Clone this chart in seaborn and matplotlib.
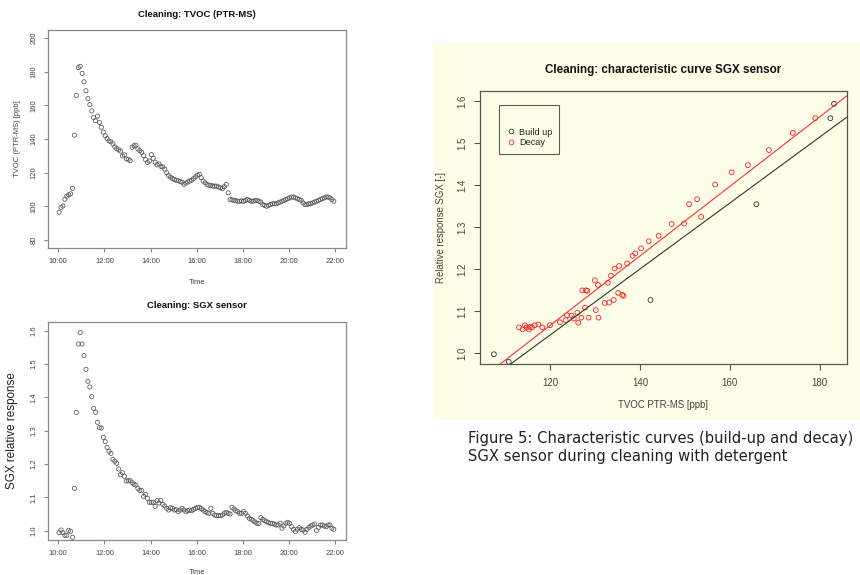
import matplotlib
matplotlib.use("Agg")
import matplotlib.pyplot as plt
from matplotlib.lines import Line2D
from matplotlib.patches import Rectangle
import pandas as pd
import seaborn as sns

# ---------------- data ----------------
start_time = "2012-01-01 10:02"
sample_interval = "5min"

tvoc_ppb = [
    # 10:02 - 10:57
    96.4, 99.4, 100.2, 104.2, 106.0, 106.8, 107.4, 110.7, 142.3, 165.9, 182.4, 183.2,
    # 11:02 - 11:57
    179.0, 174.0, 168.7, 164.0, 160.4, 156.7, 152.7, 150.9, 153.6, 149.8, 147.0, 144.1,
    # 12:02 - 12:57
    141.9, 140.2, 138.9, 138.3, 137.1, 135.3, 134.3, 133.5, 132.8, 129.9, 130.6, 128.2,
    # 13:02 - 13:57
    127.9, 127.1, 135.1, 136.0, 136.3, 134.1, 133.1, 132.1, 130.1, 127.7, 126.0, 126.9,
    # 14:02 - 14:57
    130.7, 128.5, 126.2, 124.7, 125.2, 123.7, 123.4, 122.1, 119.9, 118.2, 117.3, 116.5,
    # 15:02 - 15:57
    115.9, 115.4, 115.2, 114.7, 114.3, 113.0, 113.8, 114.5, 115.0, 115.5, 116.5, 117.5,
    # 16:02 - 16:57
    118.5, 119.0, 117.0, 115.0, 114.0, 113.0, 112.5, 112.5, 112.0, 112.0, 112.0, 111.5,
    # 17:02 - 17:57
    111.0, 110.6, 111.7, 113.0, 108.0, 104.0, 103.8, 103.5, 103.3, 103.0, 103.0, 103.2,
    # 18:02 - 18:57
    103.0, 103.5, 104.0, 103.5, 103.0, 103.0, 103.5, 103.5, 103.0, 102.5, 101.0, 100.5,
    # 19:02 - 19:57
    100.0, 100.5, 101.0, 101.5, 101.5, 101.5, 102.0, 102.5, 103.0, 103.5, 104.0, 104.5,
    # 20:02 - 20:57
    105.0, 105.5, 105.5, 105.0, 104.5, 104.0, 103.5, 102.0, 101.0, 101.0, 101.5, 101.5,
    # 21:02 - 21:57
    102.0, 102.5, 103.0, 103.5, 104.0, 104.5, 105.0, 105.5, 105.5, 105.0, 104.0, 103.0,
]

sgx_rel = [
    # 10:02 - 10:57
    0.994, 1.002, 0.994, 0.986, 0.986, 1.001, 0.998, 0.980, 1.127, 1.355, 1.560, 1.594,
    # 11:02 - 11:57
    1.560, 1.525, 1.484, 1.448, 1.431, 1.402, 1.367, 1.355, 1.325, 1.309, 1.308, 1.280,
    # 12:02 - 12:57
    1.267, 1.250, 1.238, 1.232, 1.214, 1.208, 1.202, 1.185, 1.168, 1.174, 1.163, 1.149,
    # 13:02 - 13:57
    1.150, 1.150, 1.144, 1.139, 1.137, 1.127, 1.121, 1.120, 1.103, 1.109, 1.097, 1.085,
    # 14:02 - 14:57
    1.085, 1.085, 1.073, 1.090, 1.083, 1.091, 1.079, 1.074, 1.067, 1.062, 1.069, 1.067,
    # 15:02 - 15:57
    1.062, 1.063, 1.057, 1.062, 1.067, 1.062, 1.057, 1.060, 1.062, 1.060, 1.064, 1.067,
    # 16:02 - 16:57
    1.070, 1.070, 1.066, 1.062, 1.057, 1.054, 1.052, 1.067, 1.052, 1.047, 1.045, 1.045,
    # 17:02 - 17:57
    1.045, 1.047, 1.052, 1.055, 1.052, 1.050, 1.070, 1.065, 1.060, 1.057, 1.052, 1.052,
    # 18:02 - 18:57
    1.057, 1.052, 1.044, 1.037, 1.034, 1.030, 1.026, 1.022, 1.022, 1.039, 1.034, 1.030,
    # 19:02 - 19:57
    1.027, 1.024, 1.022, 1.022, 1.020, 1.017, 1.017, 1.022, 1.007, 1.014, 1.022, 1.025,
    # 20:02 - 20:57
    1.022, 1.012, 1.004, 0.997, 1.004, 1.009, 1.004, 1.002, 0.995, 1.004, 1.010, 1.014,
    # 21:02 - 21:57
    1.017, 1.020, 1.000, 1.010, 1.017, 1.017, 1.014, 1.012, 1.017, 1.017, 1.007, 1.004,
]

buildup_window = ("10:32", "10:57")
decay_window = ("11:02", "15:32")

time_ticks = ["10:00", "12:00", "14:00", "16:00", "18:00", "20:00", "22:00"]
tvoc_yticks = [80, 100, 120, 140, 160, 180, 200]
sgx_yticks = [1.0, 1.1, 1.2, 1.3, 1.4, 1.5, 1.6]
curve_xticks = [120, 140, 160, 180]
curve_yticks = [1.0, 1.1, 1.2, 1.3, 1.4, 1.5, 1.6]

caption_lines = ["Figure 5: Characteristic curves (build-up and decay)",
                 "SGX sensor during cleaning with detergent"]

# ---------------- frame ----------------
sns.set_theme(style="white")
plt.rcParams['font.family'] = ['Liberation Sans', 'DejaVu Sans']

times = pd.date_range(start_time, periods=len(tvoc_ppb), freq=sample_interval)
df = pd.DataFrame({"Time": times, "TVOC": tvoc_ppb, "SGX": sgx_rel})
hhmm = df["Time"].dt.strftime("%H:%M")
build = df[(hhmm >= buildup_window[0]) & (hhmm <= buildup_window[1])]
decay = df[(hhmm >= decay_window[0]) & (hhmm <= decay_window[1])]

W, H = 860, 575
fig = plt.figure(figsize=(W / 100, H / 100), dpi=100)


def box(l, t, r, b):
    return [l / W, 1 - b / H, (r - l) / W, (b - t) / H]


cream = "#FEFEE8"
fig.patches.append(Rectangle((433 / W, 1 - 420 / H), (860 - 433) / W, (420 - 43) / H,
                             transform=fig.transFigure, facecolor=cream,
                             edgecolor="none", zorder=-5))

ax1 = fig.add_axes(box(48, 30, 346, 248))
ax2 = fig.add_axes(box(48, 322, 346, 540))
ax3 = fig.add_axes(box(480, 91, 847, 364))

day = times[0].strftime("%Y-%m-%d")
tick_times = pd.to_datetime([f"{day} {t}" for t in time_ticks])
x_lo = tick_times[0] - pd.Timedelta(minutes=26.8)
x_hi = tick_times[-1] + pd.Timedelta(minutes=28.6)


def style(ax, spine_color, tick_len, lsize, xpad, ypad):
    for s in ax.spines.values():
        s.set_visible(True)
        s.set_color(spine_color)
        s.set_linewidth(0.9)
    ax.tick_params(axis="both", which="major", bottom=True, left=True,
                   direction="out", length=tick_len, width=0.8,
                   color=spine_color, labelsize=lsize, labelcolor="#444444")
    ax.tick_params(axis="x", pad=xpad)
    ax.tick_params(axis="y", pad=ypad, labelrotation=90)
    for t in ax.get_yticklabels():
        t.set_va("center")
    ax.grid(False)


circ_kw = dict(marker="o", s=9, facecolors="none", linewidth=0.55)

# ---- top-left: TVOC time series ----
sns.scatterplot(data=df, x="Time", y="TVOC", ax=ax1, edgecolor="#555555", **circ_kw)
ax1.collections[-1].set_facecolor("none")
ax1.set_xlim(x_lo, x_hi)
ax1.set_ylim(75.2, 204.8)
ax1.set_xticks(tick_times)
ax1.set_xticklabels(time_ticks)
ax1.set_yticks(tvoc_yticks)
ax1.set_yticklabels([str(v) for v in tvoc_yticks])
style(ax1, "#888888", 3.0, 5.5, 4.0, 4.5)
ax1.set_title("Cleaning: TVOC (PTR-MS)", fontsize=6.8, fontweight="bold",
              color="#111111", pad=9.5)
ax1.set_xlabel("Time", fontsize=5.4, color="#444444", va="center")
ax1.xaxis.set_label_coords(0.5, -0.156)
ax1.set_ylabel("TVOC (PTR-MS) [ppb]", fontsize=5.5, color="#444444",
               va="center", ha="center")
ax1.yaxis.set_label_coords(-0.104, 0.5)

# ---- bottom-left: SGX time series ----
sns.scatterplot(data=df, x="Time", y="SGX", ax=ax2, edgecolor="#555555", **circ_kw)
ax2.collections[-1].set_facecolor("none")
ax2.set_xlim(x_lo, x_hi)
ax2.set_ylim(0.972, 1.626)
ax2.set_xticks(tick_times)
ax2.set_xticklabels(time_ticks)
ax2.set_yticks(sgx_yticks)
ax2.set_yticklabels([f"{v:.1f}" for v in sgx_yticks])
style(ax2, "#888888", 3.0, 5.5, 4.0, 4.5)
ax2.set_title("Cleaning: SGX sensor", fontsize=6.8, fontweight="bold",
              color="#111111", pad=10.2)
ax2.set_xlabel("Time", fontsize=5.4, color="#444444", va="center")
ax2.xaxis.set_label_coords(0.5, -0.150)
ax2.set_ylabel("SGX relative response", fontsize=8.4, color="#222222",
               va="center", ha="center")
ax2.yaxis.set_label_coords(-0.122, 0.5)

# ---- right: characteristic curve ----
ax3.set_facecolor("none")
ax3.set_xlim(104.3, 186.1)
ax3.set_ylim(0.9747, 1.6246)
sns.scatterplot(data=build, x="TVOC", y="SGX", ax=ax3, marker="o", s=12,
                facecolors="none", edgecolor="#333333", linewidth=0.6)
ax3.collections[-1].set_facecolor("none")
sns.scatterplot(data=decay, x="TVOC", y="SGX", ax=ax3, marker="o", s=12,
                facecolors="none", edgecolor="#FF2020", linewidth=0.6)
ax3.collections[-1].set_facecolor("none")
sns.regplot(data=build, x="TVOC", y="SGX", ax=ax3, scatter=False, ci=None,
            truncate=False, color="#333333", line_kws={"lw": 0.8})
sns.regplot(data=decay, x="TVOC", y="SGX", ax=ax3, scatter=False, ci=None,
            truncate=False, color="#FF3030", line_kws={"lw": 0.8})
ax3.set_xlim(104.3, 186.1)
ax3.set_ylim(0.9747, 1.6246)
ax3.set_xticks(curve_xticks)
ax3.set_xticklabels([str(v) for v in curve_xticks])
ax3.set_yticks(curve_yticks)
ax3.set_yticklabels([f"{v:.1f}" for v in curve_yticks])
style(ax3, "#555555", 4.3, 7.0, 6.1, 5.0)
ax3.set_title("Cleaning: characteristic curve SGX sensor", fontsize=8.4,
              fontweight="bold", color="#111111", pad=13.3)
ax3.set_xlabel("TVOC PTR-MS [ppb]", fontsize=6.9, color="#444444", va="center")
ax3.xaxis.set_label_coords(0.5, -0.150)
ax3.set_ylabel("Relative response SGX [-]", fontsize=6.9, color="#444444",
               va="center", ha="center")
ax3.yaxis.set_label_coords(-0.106, 0.5)

handles = [
    Line2D([], [], marker="o", ls="none", mfc="none", mec="#333333", ms=3.4, mew=0.6),
    Line2D([], [], marker="o", ls="none", mfc="none", mec="#FF2020", ms=3.4, mew=0.6),
]
leg = ax3.legend(handles, ["Build up", "Decay"], loc="upper left",
                 bbox_to_anchor=(0.052, 0.949), borderaxespad=0,
                 fontsize=6.6, title=" ", title_fontsize=10,
                 frameon=True, fancybox=False, borderpad=0.75,
                 handlelength=1.0, handletextpad=0.4, labelspacing=0.2)
leg.get_frame().set_edgecolor("#333333")
leg.get_frame().set_linewidth(0.8)
leg.get_frame().set_facecolor(cream)
for t in leg.get_texts():
    t.set_color("#222222")

# ---- caption ----
fig.text(468 / W, 1 - 438 / H, caption_lines[0], fontsize=10.6, color="#222222",
         family=["DejaVu Sans"], ha="left", va="center")
fig.text(468 / W, 1 - 456 / H, caption_lines[1], fontsize=10.6, color="#222222",
         family=["DejaVu Sans"], ha="left", va="center")

fig.savefig("out.png", dpi=100)
